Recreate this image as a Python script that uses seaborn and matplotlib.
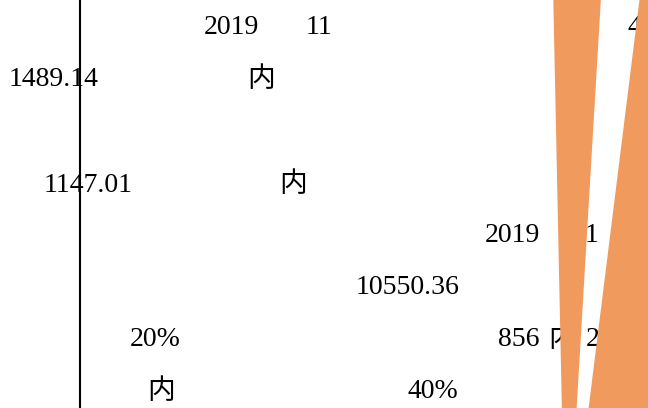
import matplotlib
matplotlib.use('Agg')
import matplotlib.pyplot as plt
import seaborn as sns

sns.set_style('white')
plt.rcParams['font.family'] = ['Liberation Serif', 'Noto Sans CJK SC', 'DejaVu Sans']

# valeurs (fragments de texte visibles)
row_labels = ['2019', '11', '4',
              '1489.14', '内',
              '1147.01', '内',
              '2019', '1',
              '10550.36',
              '20%', '856', '内', '2',
              '内', '40%']
label_x = [204, 306, 627,
           9, 247,
           44, 279,
           485, 585,
           356,
           130, 498, 548, 586,
           147, 408]
label_y = [28, 28, 28,
           80, 80,
           185, 185,
           236, 236,
           288,
           340, 340, 340, 340,
           392, 392]

# parts du camembert (en degrés), les trous sont transparents
slice_values = [4.6, 3.7, 90.0, 261.7]
slice_colors = ['#f19a5d', 'none', '#f19a5d', 'none']

W, H = 648, 408
fig = plt.figure(figsize=(W / 100, H / 100), dpi=100)
ax = fig.add_axes([0, 0, 1, 1])

# textes sous le camembert
for txt, x, y in zip(row_labels, label_x, label_y):
    ax.text(x, H - y, txt, fontsize=20, color='black',
            ha='left', va='center', zorder=1)

wedges, _ = ax.pie(slice_values, colors=slice_colors, startangle=91.2,
                   counterclock=False, center=(565.7, H - 592), radius=800,
                   frame=True, wedgeprops={'linewidth': 0})
for w in wedges:
    w.set_zorder(2)

ax.set_xlim(0, W)
ax.set_ylim(0, H)
ax.set_aspect('auto')
ax.set_xticks([])
ax.set_yticks([])
for side in ['top', 'right', 'bottom']:
    ax.spines[side].set_visible(False)
ax.spines['left'].set_position(('data', 80))
ax.spines['left'].set_linewidth(1.5)
ax.spines['left'].set_color('black')
ax.spines['left'].set_zorder(3)

fig.savefig('out.png', dpi=100)
